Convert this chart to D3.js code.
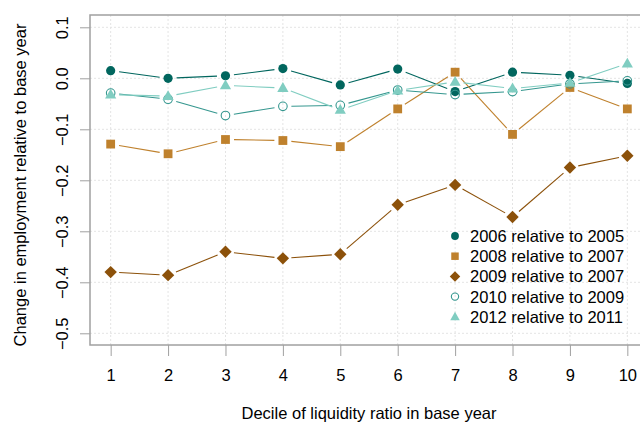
<!DOCTYPE html>
<html>
<head>
<meta charset="utf-8">
<script src="https://cdn.jsdelivr.net/npm/d3@7"></script>
<style>
  body { margin: 0; background: #fff; }
  svg text { font-family: Arial, "Liberation Sans", sans-serif; fill: #000; }
</style>
</head>
<body>
<script>
// deciles on x
let deciles = [1, 2, 3, 4, 5, 6, 7, 8, 9, 10];
let yTicks = [0.1, 0.0, -0.1, -0.2, -0.3, -0.4, -0.5];

// values
let s2006 = [0.015, 0.000, 0.005, 0.019, -0.013, 0.018, -0.026, 0.012, 0.006, -0.010];
let s2008 = [-0.129, -0.148, -0.120, -0.122, -0.134, -0.060, 0.012, -0.110, -0.018, -0.060];
let s2009 = [-0.380, -0.386, -0.340, -0.353, -0.345, -0.248, -0.209, -0.272, -0.175, -0.152];
let s2010 = [-0.029, -0.041, -0.073, -0.055, -0.053, -0.023, -0.032, -0.026, -0.011, -0.005];
let s2012 = [-0.032, -0.035, -0.014, -0.019, -0.062, -0.024, -0.007, -0.020, -0.009, 0.029];

let seriesNames = ["2006 relative to 2005", "2008 relative to 2007", "2009 relative to 2007",
                   "2010 relative to 2009", "2012 relative to 2011"];
let seriesColors = ["#01665E", "#BF812D", "#8C510A", "#35978F", "#80CDC1"];
let seriesShapes = ["circle", "square", "diamond", "ring", "triangle"];
let seriesValues = [s2006, s2008, s2009, s2010, s2012];

let width = 640, height = 428;
let plot = { left: 90, top: 15, right: 648, bottom: 345 };
let fontSize = "16.5px";

let svg = d3.select("body").append("svg")
    .attr("width", width)
    .attr("height", height);

let x = d3.scaleLinear().domain([0.64, 10.36]).range([plot.left, plot.right]);
let y = d3.scaleLinear().domain([0.1, -0.5]).range([27.3, 333.3]);

// grid
let grid = svg.append("g");
grid.selectAll("line.vx").data(deciles).enter().append("line")
    .attr("x1", d => x(d)).attr("x2", d => x(d))
    .attr("y1", plot.top).attr("y2", plot.bottom)
    .style("stroke", "#e4e4e4").style("stroke-dasharray", "2,2");
grid.selectAll("line.hy").data(yTicks).enter().append("line")
    .attr("x1", plot.left).attr("x2", plot.right)
    .attr("y1", d => y(d)).attr("y2", d => y(d))
    .style("stroke", "#e4e4e4").style("stroke-dasharray", "2,2");

// box
svg.append("rect")
    .attr("x", plot.left).attr("y", plot.top)
    .attr("width", plot.right - plot.left).attr("height", plot.bottom - plot.top)
    .style("fill", "none").style("stroke", "#a0a0a0").style("stroke-width", 1.5);

// x axis
let xAxis = svg.append("g")
    .attr("transform", `translate(0,${plot.bottom})`)
    .call(d3.axisBottom(x).tickValues(deciles).tickSize(11).tickPadding(13).tickFormat(d3.format("d")));
xAxis.select(".domain").remove();
xAxis.selectAll(".tick line").style("stroke", "#a0a0a0");
xAxis.selectAll(".tick text").style("font-size", fontSize);

// y axis
let yAxis = svg.append("g")
    .attr("transform", `translate(${plot.left},0)`)
    .call(d3.axisLeft(y).tickValues(yTicks).tickSize(10).tickFormat(d3.format(".1f")));
yAxis.select(".domain").remove();
yAxis.selectAll(".tick line").style("stroke", "#a0a0a0");
yAxis.selectAll(".tick text")
    .style("font-size", fontSize)
    .attr("text-anchor", "middle")
    .attr("dy", null)
    .attr("x", 0).attr("y", 0)
    .attr("dominant-baseline", "central")
    .attr("transform", "translate(-28,0) rotate(-90)");
svg.selectAll("g").attr("font-family", null);

// axis titles
svg.append("text")
    .attr("x", 369).attr("y", 419)
    .attr("text-anchor", "middle")
    .style("font-size", fontSize)
    .text("Decile of liquidity ratio in base year");
svg.append("text")
    .attr("transform", "translate(26,185) rotate(-90)")
    .attr("text-anchor", "middle")
    .style("font-size", fontSize)
    .text("Change in employment relative to base year");

function drawMarker(g, shape, color, cx, cy, scale) {
    let s = scale || 1;
    if (shape === "circle") {
        g.append("circle").attr("cx", cx).attr("cy", cy).attr("r", 4.6 * s).style("fill", color);
    } else if (shape === "ring") {
        g.append("circle").attr("cx", cx).attr("cy", cy).attr("r", 4.3 * s)
            .style("fill", "none").style("stroke", color).style("stroke-width", 1.1);
    } else if (shape === "square") {
        let h = 4.4 * s;
        g.append("rect").attr("x", cx - h).attr("y", cy - h).attr("width", 2 * h).attr("height", 2 * h)
            .style("fill", color);
    } else if (shape === "diamond") {
        let h = 6.2 * s;
        g.append("path").attr("d", `M${cx},${cy - h}L${cx + h},${cy}L${cx},${cy + h}L${cx - h},${cy}Z`)
            .style("fill", color);
    } else if (shape === "triangle") {
        let h = 5.6 * s;
        g.append("path").attr("d", `M${cx},${cy - h * 1.05}L${cx + h},${cy + h * 0.7}L${cx - h},${cy + h * 0.7}Z`)
            .style("fill", color);
    }
}

// series: lines with gaps around points, then markers
let gap = 8.5;
seriesValues.forEach((vals, si) => {
    let g = svg.append("g");
    let pts = deciles.map((d, i) => [x(d), y(vals[i])]);
    for (let i = 0; i < pts.length - 1; i++) {
        let [x1, y1] = pts[i], [x2, y2] = pts[i + 1];
        let len = Math.hypot(x2 - x1, y2 - y1);
        if (len <= 2 * gap) continue;
        let ux = (x2 - x1) / len, uy = (y2 - y1) / len;
        g.append("line")
            .attr("x1", x1 + ux * gap).attr("y1", y1 + uy * gap)
            .attr("x2", x2 - ux * gap).attr("y2", y2 - uy * gap)
            .style("stroke", seriesColors[si]).style("stroke-width", 1.1);
    }
    pts.forEach(p => drawMarker(g, seriesShapes[si], seriesColors[si], p[0], p[1]));
});

// legend
let legend = svg.append("g");
seriesNames.forEach((name, i) => {
    let ly = 236 + i * 20.2;
    drawMarker(legend, seriesShapes[i], seriesColors[i], 455, ly, 0.85);
    legend.append("text")
        .attr("x", 470).attr("y", ly)
        .attr("dominant-baseline", "central")
        .style("font-size", fontSize)
        .text(name);
});
</script>
</body>
</html>
